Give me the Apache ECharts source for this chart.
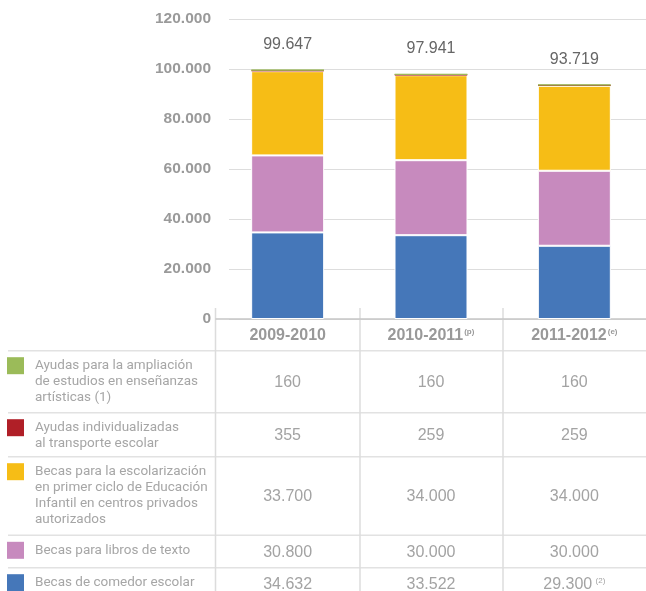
<!DOCTYPE html>
<html>
<head>
<meta charset="utf-8">
<script src="https://cdn.jsdelivr.net/npm/echarts@6/dist/echarts.min.js"></script>
<style>
  html, body { margin: 0; padding: 0; background: #fff; }
  #chart { width: 646px; height: 591px; }
</style>
</head>
<body>
<div id="chart"></div>
<script>
// School-year categories and their footnote marks
const cursos = ['2009-2010', '2010-2011', '2011-2012'];
const cursoNotas = ['', '(p)', '(e)'];

// Number of grants per programme and school year
const comedor = [34632, 33522, 29300];      // Becas de comedor escolar
const libros = [30800, 30000, 30000];       // Becas para libros de texto
const infantil = [33700, 34000, 34000];     // Becas escolarización primer ciclo Ed. Infantil
const transporte = [355, 259, 259];         // Ayudas transporte escolar
const artisticas = [160, 160, 160];         // Ayudas enseñanzas artísticas

// Notes attached to single table cells: [row key, column index, note]
const celdaNotas = [['comedor', 2, '(2)']];

// Value axis
const yMin = 0;
const yMax = 120000;
const yStep = 20000;

// Table rows, top to bottom
const filas = [
  { key: 'artisticas', name: 'Ayudas para la ampliación\nde estudios en enseñanzas\nartísticas (1)', color: '#9bbb59', values: artisticas },
  { key: 'transporte', name: 'Ayudas individualizadas\nal transporte escolar', color: '#b01f27', values: transporte },
  { key: 'infantil', name: 'Becas para la escolarización\nen primer ciclo de Educación\nInfantil en centros privados\nautorizados', color: '#f6bd16', values: infantil },
  { key: 'libros', name: 'Becas para libros de texto', color: '#c78abe', values: libros },
  { key: 'comedor', name: 'Becas de comedor escolar', color: '#4577b9', values: comedor }
];

const fmt = n => String(n).replace(/\B(?=(\d{3})+(?!\d))/g, '.');
const totales = cursos.map((_, i) => comedor[i] + libros[i] + infantil[i] + transporte[i] + artisticas[i]);

const chart = echarts.init(document.getElementById('chart'), null, { renderer: 'canvas' });

// Stack order, bottom to top
const stackOrder = ['comedor', 'libros', 'infantil', 'transporte', 'artisticas'];
const byKey = {};
filas.forEach(f => { byKey[f.key] = f; });

const series = stackOrder.map((key, idx) => {
  const f = byKey[key];
  const big = key === 'comedor' || key === 'libros' || key === 'infantil';
  const s = {
    name: f.name,
    type: 'bar',
    stack: 'total',
    xAxisIndex: 1,
    yAxisIndex: 1,
    barWidth: 73,
    data: f.values,
    // thin programmes get an outline in their own colour so they stay visible
    itemStyle: big
      ? { color: f.color, borderColor: '#ffffff', borderWidth: 1 }
      : { color: f.color, borderColor: f.color, borderWidth: 1 },
    emphasis: { disabled: true },
    animation: false
  };
  if (idx === stackOrder.length - 1) {
    s.label = {
      show: true,
      position: 'top',
      distance: 17,
      formatter: p => fmt(totales[p.dataIndex]),
      color: '#666666',
      fontSize: 16,
      fontFamily: 'Liberation Sans'
    };
  }
  return s;
});

const FONT = 'Liberation Sans';

chart.setOption({
  animation: false,
  backgroundColor: '#ffffff',
  grid: [
    { left: 229, right: 0, top: 19, height: 300 },
    { left: 216, right: 0, top: 19, height: 300 }
  ],
  xAxis: [
    { gridIndex: 0, type: 'category', data: cursos, show: false },
    {
      gridIndex: 1,
      type: 'category',
      data: cursos,
      axisLine: { lineStyle: { color: '#c6c6c6', width: 1.5 } },
      axisTick: { show: false },
      axisLabel: {
        margin: 9,
        formatter: (v, i) => cursoNotas[i] ? `{m|${v}}{s|${cursoNotas[i]}}` : `{m|${v}}`,
        rich: {
          m: { fontSize: 16, fontWeight: 'bold', color: '#999999', fontFamily: FONT },
          s: { fontSize: 8, fontWeight: 'bold', color: '#999999', fontFamily: FONT, verticalAlign: 'top', padding: [0, 0, 0, 1] }
        }
      }
    }
  ],
  yAxis: [
    {
      gridIndex: 0,
      type: 'value',
      min: yMin,
      max: yMax,
      interval: yStep,
      axisLine: { show: false },
      axisTick: { show: false },
      splitLine: { lineStyle: { color: '#dddddd', width: 1 } },
      axisLabel: {
        margin: 18,
        formatter: v => fmt(v),
        color: '#9a9a9a',
        fontSize: 15.5,
        fontWeight: 'bold',
        fontFamily: FONT
      }
    },
    { gridIndex: 1, type: 'value', min: yMin, max: yMax, interval: yStep, show: false, splitLine: { show: false } }
  ],
  series
});

// Data table under the chart
const colX = cursos.map(c => chart.convertToPixel({ gridIndex: 1 }, [c, 0])[0]);
const rowEdges = [350.7, 412.7, 456.7, 535.3, 567.7, 600];
const lineColor = '#dcdcdc';
const els = [];

rowEdges.slice(0, 5).forEach(y => {
  els.push({ type: 'line', shape: { x1: 8, y1: y, x2: 646, y2: y }, style: { stroke: '#e2e2e2', lineWidth: 1.5 }, silent: true });
});
[215.5, 360, 503].forEach(x => {
  els.push({ type: 'line', shape: { x1: x, y1: 308, x2: x, y2: 591 }, style: { stroke: lineColor, lineWidth: 1.5 }, silent: true });
});

filas.forEach((f, r) => {
  const top = rowEdges[r];
  const bottom = rowEdges[r + 1];
  const firstLine = top + 15;
  els.push({
    type: 'rect',
    shape: { x: 7, y: firstLine - 8.5, width: 17, height: 17 },
    style: { fill: f.color },
    silent: true
  });
  els.push({
    type: 'text',
    style: {
      text: f.name,
      x: 35,
      y: firstLine - 8,
      fill: '#a6a6a6',
      fontSize: 13.5,
      fontFamily: 'Roboto',
      lineHeight: 16,
      textAlign: 'left',
      textVerticalAlign: 'top'
    },
    silent: true
  });
  const cy = Math.min((top + bottom) / 2 + 1, 585);
  f.values.forEach((v, c) => {
    const nota = celdaNotas.find(n => n[0] === f.key && n[1] === c);
    els.push({
      type: 'text',
      style: {
        text: nota ? `{v|${fmt(v)}} {n|${nota[2]}}` : `{v|${fmt(v)}}`,
        x: colX[c],
        y: cy,
        textAlign: 'center',
        textVerticalAlign: 'middle',
        rich: {
          v: { fontSize: 16, fontFamily: FONT, fill: '#a3a3a3', color: '#a3a3a3' },
          n: { fontSize: 8, fontFamily: FONT, fill: '#a3a3a3', color: '#a3a3a3', verticalAlign: 'top' }
        }
      },
      silent: true
    });
  });
});

chart.setOption({ graphic: { elements: els } });
</script>
</body>
</html>
